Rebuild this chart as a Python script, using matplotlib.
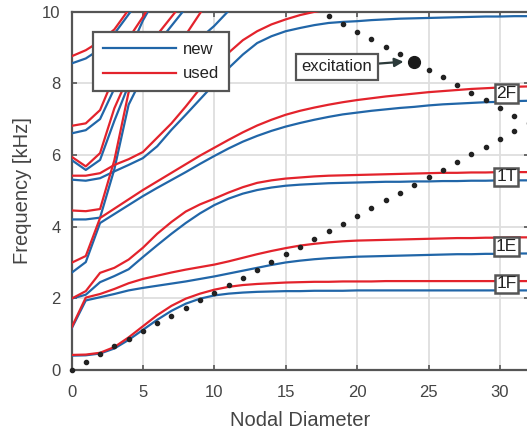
import numpy as np
import matplotlib
matplotlib.use("Agg")
import matplotlib.pyplot as plt

plt.rcParams['font.family'] = ['Liberation Sans', 'DejaVu Sans']

# ---------------- data ----------------
# Mode lines: frequency [kHz] at nodal diameter 0,1,2,...
new_1F = [0.40,0.41,0.46,0.60,0.84,1.12,1.40,1.65,1.85,1.99,2.08,2.13,2.16,2.18,2.19,2.20,2.20,2.21,2.21,2.21,2.22,2.22,2.22,2.22,2.22,2.22,2.22,2.22,2.22,2.22,2.22,2.22,2.22]
used_1F = [0.42,0.43,0.48,0.64,0.91,1.22,1.53,1.79,1.99,2.13,2.24,2.32,2.37,2.40,2.42,2.44,2.45,2.46,2.46,2.47,2.47,2.47,2.48,2.48,2.48,2.48,2.48,2.48,2.48,2.48,2.48,2.48,2.48]
new_1E = [1.15,1.94,2.03,2.12,2.22,2.29,2.35,2.41,2.47,2.54,2.61,2.69,2.77,2.85,2.93,3.00,3.05,3.09,3.12,3.14,3.16,3.17,3.18,3.19,3.20,3.21,3.22,3.23,3.23,3.24,3.24,3.25,3.25]
used_1E = [1.18,2.02,2.12,2.26,2.42,2.54,2.63,2.72,2.80,2.87,2.94,3.03,3.13,3.23,3.32,3.40,3.47,3.52,3.56,3.59,3.61,3.62,3.63,3.64,3.65,3.66,3.67,3.68,3.68,3.69,3.69,3.70,3.70]
new_1T = [1.99,2.10,2.45,2.62,2.81,3.15,3.48,3.80,4.10,4.37,4.60,4.78,4.92,5.02,5.09,5.14,5.17,5.19,5.21,5.22,5.23,5.24,5.25,5.25,5.26,5.26,5.27,5.27,5.28,5.28,5.29,5.29,5.29]
used_1T = [1.99,2.20,2.71,2.85,3.08,3.41,3.80,4.13,4.42,4.62,4.78,4.95,5.10,5.22,5.29,5.34,5.37,5.40,5.42,5.43,5.44,5.45,5.46,5.47,5.48,5.49,5.50,5.50,5.51,5.51,5.52,5.52,5.52]
new_2F = [2.71,3.01,4.10,4.35,4.60,4.85,5.08,5.30,5.52,5.75,5.97,6.18,6.37,6.53,6.67,6.79,6.89,6.98,7.06,7.13,7.18,7.23,7.27,7.31,7.34,7.38,7.41,7.43,7.45,7.47,7.48,7.50,7.51]
used_2F = [2.99,3.18,4.24,4.50,4.76,5.02,5.26,5.50,5.74,5.98,6.20,6.42,6.63,6.82,6.98,7.12,7.23,7.32,7.40,7.47,7.53,7.58,7.63,7.67,7.71,7.75,7.78,7.81,7.84,7.86,7.88,7.90,7.91]
new_m5 = [5.31,5.28,5.35,5.54,5.72,5.91,6.24,6.70,7.12,7.55,7.98,8.42,8.80,9.12,9.31,9.45,9.54,9.62,9.68,9.71,9.73,9.76,9.78,9.80,9.81,9.82,9.83,9.84,9.85,9.86,9.86,9.87,9.87]
used_m5 = [5.42,5.42,5.49,5.72,5.88,6.08,6.48,6.88,7.35,7.85,8.35,8.85,9.20,9.45,9.64,9.78,9.90,9.99,10.06,10.10]
new_s1 = [4.20,4.20,4.25,5.60,7.40,8.20,8.50,8.75,9.00,9.25,9.60,10.02,10.45]
used_s1 = [4.45,4.43,4.49,5.85,7.75,8.30,8.60,8.90,9.35,9.95,10.55]
new_s2 = [5.86,5.58,5.86,6.95,7.95,8.60,9.10,9.60,10.10,10.60]
used_s2 = [5.95,5.68,6.05,7.30,8.20,8.80,9.35,9.85,10.35]
new_s3 = [6.60,6.69,7.00,7.85,8.85,9.75,10.45]
used_s3 = [6.81,6.88,7.25,8.20,9.25,9.85,10.50]
new_s4 = [8.55,8.69,8.95,9.38,9.92,10.45]
used_s4 = [8.75,8.92,9.17,9.50,10.05,10.60]

new_modes = [new_1F, new_1E, new_1T, new_2F, new_m5, new_s1, new_s2, new_s3, new_s4]
used_modes = [used_1F, used_1E, used_1T, used_2F, used_m5, used_s1, used_s2, used_s3, used_s4]

# Excitation dots (engine order line, aliased)
exc_nd_up = list(range(0, 33))
exc_f_up = [0.00,0.22,0.44,0.66,0.87,1.08,1.30,1.52,1.73,1.94,2.16,2.37,2.58,2.80,3.02,3.23,3.44,3.66,3.87,4.08,4.30,4.51,4.73,4.94,5.16,5.37,5.58,5.80,6.02,6.23,6.44,6.66,6.88]
exc_nd_down = list(range(18, 32))
exc_f_down = [9.87,9.66,9.44,9.23,9.02,8.81,8.60,8.37,8.16,7.94,7.73,7.52,7.30,7.09]
exc_point = (24, 8.60)

family_labels = ['1F', '1E', '1T', '2F']
family_label_f = [2.40, 3.45, 5.39, 7.71]
family_label_nd = 30.45

blue = '#2166a8'
red = '#e3232c'

# ---------------- figure ----------------
W, H = 527, 434
fig = plt.figure(figsize=(W/100, H/100), dpi=100)
left, right, top, bottom = 71.5, 528.5, 11.5, 370.0
ax = fig.add_axes([left/W, 1-bottom/H, (right-left)/W, (bottom-top)/H])

for i, m in enumerate(new_modes):
    ax.plot(np.arange(len(m)), m, color=blue, lw=1.6, label='new' if i == 0 else None, zorder=3)
for i, m in enumerate(used_modes):
    ax.plot(np.arange(len(m)), m, color=red, lw=1.6, label='used' if i == 0 else None, zorder=3)

ax.plot(exc_nd_up, exc_f_up, 'o', color='#222222', ms=3.0, ls='none', zorder=4, clip_on=False)
ax.plot(exc_nd_down, exc_f_down, 'o', color='#222222', ms=3.0, ls='none', zorder=4)
ax.plot([exc_point[0]], [exc_point[1]], 'o', color='#1a1a1a', ms=8.5, zorder=5)

ax.annotate('excitation', xy=(exc_point[0]-0.75, exc_point[1]), xytext=(18.58, 8.46),
            ha='center', va='center', fontsize=12, color='#222222',
            bbox=dict(boxstyle='square,pad=0.32', fc='white', ec='#555555', lw=1.6),
            arrowprops=dict(arrowstyle='-|>', color='#2b3a3a', lw=1.6, mutation_scale=13,
                            shrinkA=0, shrinkB=0), zorder=6)

for lab, fy in zip(family_labels, family_label_f):
    ax.text(family_label_nd, fy, lab, ha='center', va='center', fontsize=12.5, color='#222222',
            bbox=dict(boxstyle='square,pad=0.1', fc='white', ec='#555555', lw=1.8), zorder=6)

ax.set_xlim(0, 32)
ax.set_ylim(0, 10)
ax.set_xticks([0, 5, 10, 15, 20, 25, 30])
ax.set_yticks([0, 2, 4, 6, 8, 10])
ax.grid(True, color='#dedede', lw=1.3, zorder=0)
ax.set_axisbelow(True)
ax.tick_params(direction='in', length=3.5, width=1.2, color='#555555', labelcolor='#444444',
               labelsize=12, top=True, right=True)
ax.tick_params(axis='x', pad=10.5)
ax.tick_params(axis='y', pad=8)
for s in ['left', 'bottom', 'top']:
    ax.spines[s].set_color('#555555')
    ax.spines[s].set_linewidth(1.6)
ax.spines['right'].set_visible(False)

ax.set_xlabel('Nodal Diameter', fontsize=14.5, color='#444444', labelpad=8)
ax.set_ylabel('Frequency [kHz]', fontsize=14.5, color='#444444', labelpad=7)

leg = ax.legend(loc='upper left', bbox_to_anchor=(0.047, 0.942), borderaxespad=0, fontsize=12,
                handlelength=4.4, handletextpad=0.4, labelspacing=0.55, borderpad=0.6,
                fancybox=False, framealpha=1, edgecolor='#555555')
leg.get_frame().set_linewidth(1.6)
leg.set_zorder(10)
for t in leg.get_texts():
    t.set_color('#222222')

fig.savefig('out.png', dpi=100)
